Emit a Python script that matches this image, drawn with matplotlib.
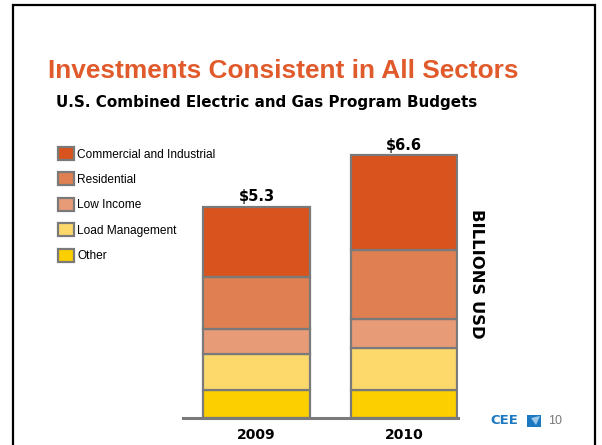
import matplotlib
matplotlib.use("Agg")
import matplotlib.pyplot as plt
from matplotlib.patches import Rectangle, Polygon

years = ["2009", "2010"]
totals = ["$5.3", "$6.6"]
sectors = ["Other", "Load Management", "Low Income", "Residential", "Commercial and Industrial"]
values = {
    "Other": [0.71, 0.71],
    "Load Management": [0.89, 1.04],
    "Low Income": [0.64, 0.75],
    "Residential": [1.30, 1.71],
    "Commercial and Industrial": [1.77, 2.39],
}
colors = {
    "Other": "#FCCF00",
    "Load Management": "#FDD96C",
    "Low Income": "#E89B77",
    "Residential": "#E07F52",
    "Commercial and Industrial": "#D9531E",
}

W, H = 602, 445
fig = plt.figure(figsize=(W / 100, H / 100), dpi=100)
fig.patch.set_facecolor("white")

def fx(px):
    return px / W

def fy(py):
    return 1 - py / H

# slide frame
fig.add_artist(Rectangle((fx(13), fy(460)), fx(595 - 13), (460 - 5) / H,
                         transform=fig.transFigure, fill=False,
                         edgecolor="black", linewidth=1.6))

# title and subtitle
fig.text(fx(48), fy(71), "Investments Consistent in All Sectors",
         color="#E05A2B", fontsize=18.9, fontweight="bold",
         family="Liberation Sans", va="center", ha="left")
fig.text(fx(56), fy(102), "U.S. Combined Electric and Gas Program Budgets",
         color="black", fontsize=10.9, fontweight="bold",
         family="DejaVu Sans", va="center", ha="left")

# axes geometry (pixels)
px_per_unit = 39.8
base_py = 418
ymax = 7.0
ax_left, ax_right = 183, 458
ax_top = base_py - ymax * px_per_unit
ax = fig.add_axes([fx(ax_left), fy(base_py), fx(ax_right - ax_left), (base_py - ax_top) / H])
ax.set_facecolor("none")

xs = [0, 1]
width = 0.725
bottoms = [0.0, 0.0]
handles = {}
for s in sectors:
    bc = ax.bar(xs, values[s], width, bottom=bottoms, color=colors[s],
                edgecolor="#7A7A7A", linewidth=1.6, label=s, zorder=3)
    handles[s] = bc
    bottoms = [b + v for b, v in zip(bottoms, values[s])]

ax.set_xlim(-0.498, 1.366)
ax.set_ylim(0, ymax)
for sp in ["top", "right", "left"]:
    ax.spines[sp].set_visible(False)
ax.spines["bottom"].set_color("#7A7A7A")
ax.spines["bottom"].set_linewidth(2.2)
ax.spines["bottom"].set_zorder(4)
ax.set_yticks([])
ax.set_xticks(xs)
ax.set_xticklabels(years, fontsize=10, fontweight="bold", family="DejaVu Sans")
ax.tick_params(axis="x", length=0, pad=7)

for x, tot, lbl in zip(xs, bottoms, totals):
    ax.text(x, tot + 0.06, lbl, ha="center", va="bottom", fontsize=10.5,
            fontweight="bold", family="DejaVu Sans")

# rotated unit label
fig.text(fx(477), fy(274), "BILLIONS USD", rotation=-90, ha="center", va="center",
         fontsize=11.8, fontweight="bold", family="DejaVu Sans")

# legend
order = list(reversed(sectors))
leg = fig.legend([handles[s] for s in order], order,
                 loc="upper left", bbox_to_anchor=(fx(58), fy(147)),
                 frameon=False, labelspacing=1.0,
                 handlelength=1.3, handleheight=1.3, handletextpad=0.3,
                 borderaxespad=0, borderpad=0,
                 prop={"family": "Liberation Sans", "size": 8.6})

# footer: logo + page number
fig.text(fx(490), fy(421), "CEE", color="#1C78C0", fontsize=9.5, fontweight="bold",
         family="DejaVu Sans", ha="left", va="center")
fig.add_artist(Rectangle((fx(527), fy(427)), fx(14), 12 / H, transform=fig.transFigure,
                         facecolor="#1C78C0", edgecolor="none"))
fig.add_artist(Polygon([(fx(531), fy(418)), (fx(540), fy(416)), (fx(536), fy(425))],
                       closed=True, transform=fig.transFigure,
                       facecolor="#9CC8EA", edgecolor="none"))
fig.text(fx(548), fy(421), "10", color="#777777", fontsize=9,
         family="Liberation Sans", ha="left", va="center")

fig.savefig("out.png", dpi=100)
